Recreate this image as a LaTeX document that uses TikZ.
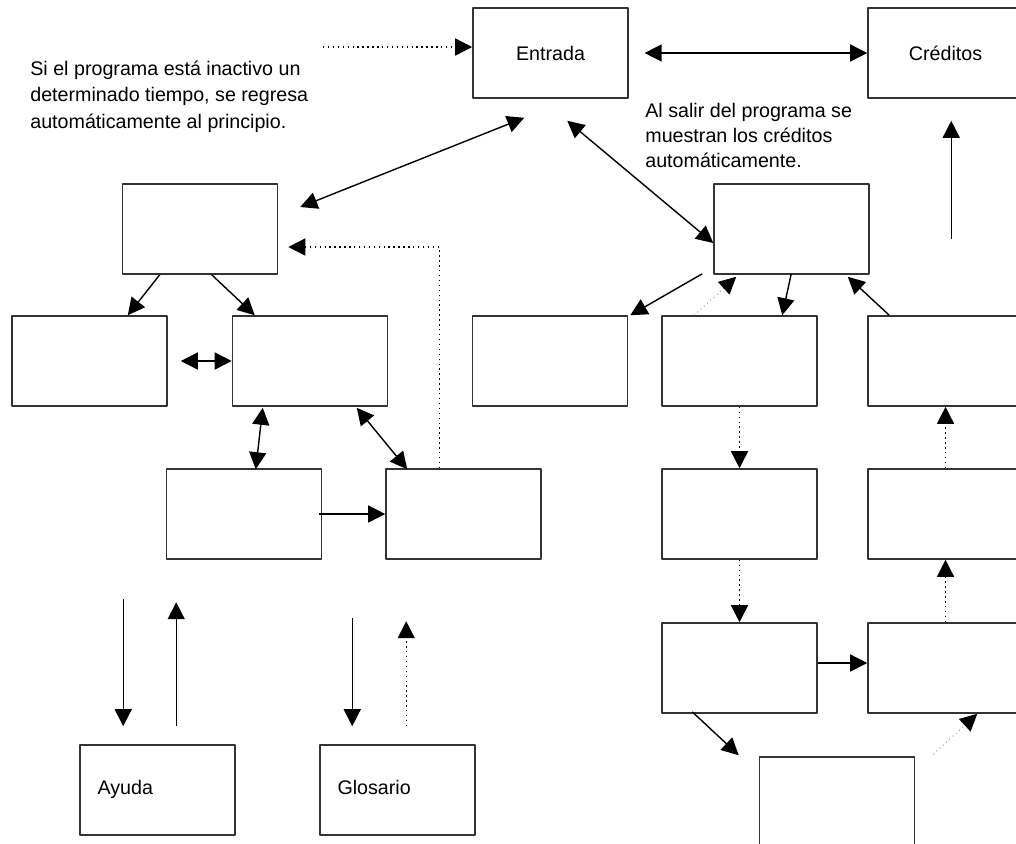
\documentclass[tikz,border=0pt]{standalone}
\usepackage{fontspec}
\setmainfont{Liberation Sans}
\usetikzlibrary{arrows.meta,calc}

\begin{document}
\begin{tikzpicture}[x=0.02cm,y=-0.02cm,line join=round,
	>={Triangle[length=0.34cm,width=0.34cm]},
	font=\fontsize{11.2}{15}\selectfont,
	caja/.style={draw=black!80,line width=0.9pt,minimum width=3.1cm,minimum height=1.8cm,inner sep=0pt},
	cajatxt/.style={caja,text width=2.4cm,align=left,inner xsep=0.35cm,text height=8pt,text depth=2.4pt},
	flecha/.style={->,line width=0.8pt},
	doble/.style={<->,line width=0.8pt},
	punteada/.style={->,dotted,line width=0.8pt},
	gris/.style={-{Triangle[length=0.34cm,width=0.34cm,black]},dotted,draw=gray,line width=0.5pt},
	nota/.style={align=left,anchor=base west,inner sep=0pt}]
	\useasboundingbox (0,0) rectangle (1016,843);
	\clip (0,0) rectangle (1016,843);
	% cajas de arriba
	\node[caja] (entrada) at (550.5,53) {Entrada};
	\node[caja] (creditos) at (945.5,53) {Créditos};
	\node[nota] (aviso) at (30,128) {Si el programa está inactivo un\\determinado tiempo, se regresa\\automáticamente al principio.};
	\node[nota,font=\fontsize{11.2}{14.2}\selectfont] (fin) at (645,167) {Al salir del programa se\\muestran los créditos\\automáticamente.};
	% lado izquierdo
	\node[caja] (menu) at (200,229) {};
	\node[caja] (opA) at (89.5,361) {};
	\node[caja] (opB) at (310,361) {};
	\node[caja] (subA) at (244,514) {};
	\node[caja] (subB) at (463.5,514) {};
	\node[cajatxt] (ayuda) at (157.5,790) {Ayuda};
	\node[cajatxt] (glosario) at (397.5,790) {Glosario};
	% lado derecho
	\node[caja] (sal) at (791.5,229) {};
	\node[caja] (s1) at (550,361) {};
	\node[caja] (s2) at (739.5,361) {};
	\node[caja] (s3) at (945.5,361) {};
	\node[caja] (s4) at (739.5,514) {};
	\node[caja] (s5) at (945.5,514) {};
	\node[caja] (s6) at (739.5,668) {};
	\node[caja] (s7) at (945.5,668) {};
	\node[caja] (s8) at (837,802) {};
	% flechas de arriba
	\coordinate (avisofin) at (323,47);
	\draw[punteada] (avisofin) -- ($(entrada.west)+(0,-6)$);
	\draw[doble,shorten <=9] (entrada.east) -- (creditos.west);
	\draw[doble] ($(entrada.south west)+(52,19)$) -- ($(menu.east)+(22,-22)$);
	\draw[doble] ($(entrada.south west)+(95,22)$) -- ($(sal.west)+(0,14)$);
	\draw[flecha] ($(creditos.south west)+(84,140)$) -- ($(creditos.south west)+(84,22)$);
	% flechas izquierda
	\draw[punteada] ($(subB.north west)+(54,0)$) |- ($(menu.east)+(10,18)$);
	\draw[flecha] ($(menu.south west)+(38,0)$) -- ($(opA.north east)+(-40,0)$);
	\draw[flecha] ($(menu.south west)+(90,0)$) -- ($(opB.north west)+(23,0)$);
	\draw[doble] ($(opA.east)+(13,0)$) -- (opB.west);
	\draw[doble] ($(opB.south west)+(31,1)$) -- ($(subA.north west)+(90,1)$);
	\draw[doble] ($(opB.south west)+(125,1)$) -- ($(subB.north west)+(22,1)$);
	\draw[flecha] ($(subA.east)+(-3,0)$) -- (subB.west);
	\draw[flecha] ($(ayuda.north west)+(44,-145)$) -- ($(ayuda.north west)+(44,-18)$);
	\draw[flecha] ($(ayuda.north west)+(97,-18)$) -- ($(ayuda.north west)+(97,-142)$);
	\draw[flecha] ($(glosario.north west)+(33,-126)$) -- ($(glosario.north west)+(33,-18)$);
	\draw[punteada] ($(glosario.north west)+(87,-18)$) -- ($(glosario.north west)+(87,-123)$);
	% flechas derecha
	\draw[flecha] ($(sal.south west)+(-11,-1)$) -- ($(s1.north east)+(2,0)$);
	\draw[gris] ($(s2.north west)+(33,0)$) -- ($(sal.south west)+(23,2)$);
	\draw[flecha] ($(sal.south west)+(78,-1)$) -- ($(s2.north west)+(121,0)$);
	\draw[flecha] ($(s3.north west)+(22,0)$) -- ($(sal.south east)+(-22,2)$);
	\draw[punteada] (s2.south) -- (s4.north);
	\draw[punteada] (s4.south) -- (s6.north);
	\draw[punteada] (s5.north) -- (s3.south);
	\draw[punteada] (s7.north) -- (s5.south);
	\draw[flecha] ($(s6.east)+(0,-5)$) -- ($(s7.west)+(0,-5)$);
	\draw[flecha] ($(s6.south west)+(31,-2)$) -- ($(s8.north west)+(-20,-1)$);
	\draw[gris] ($(s8.north east)+(18,-2)$) -- ($(s7.south west)+(110,0)$);
\end{tikzpicture}
\end{document}
